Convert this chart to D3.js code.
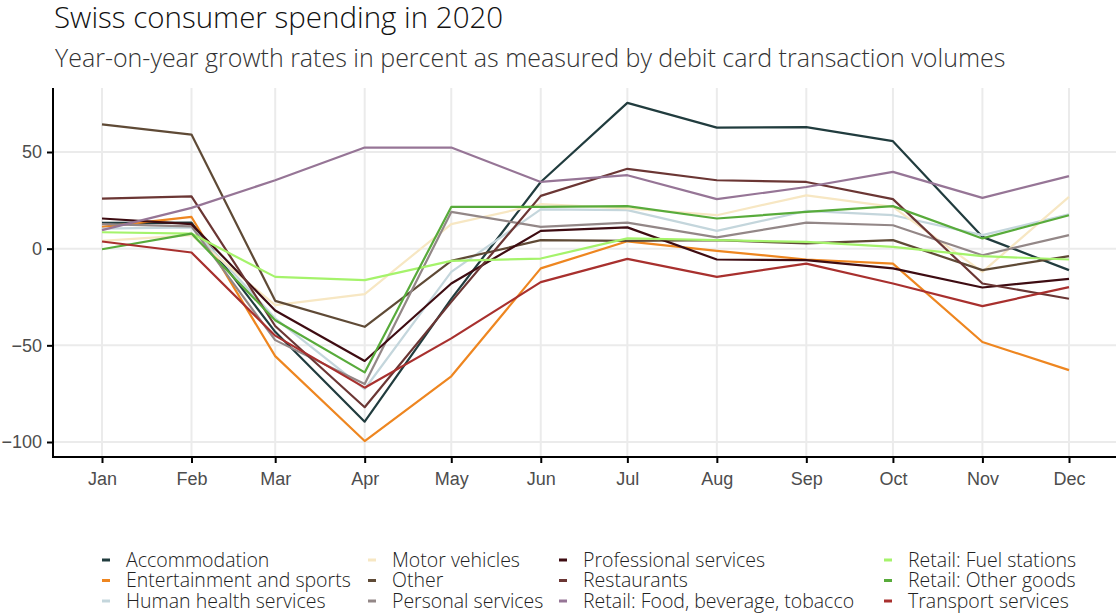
<!DOCTYPE html>
<html>
<head>
<meta charset="utf-8">
<script src="https://cdn.jsdelivr.net/npm/d3@7"></script>
<style>
  html, body { margin: 0; padding: 0; background: #fff; }
  svg { display: block; font-family: "Open Sans", "Noto Sans", sans-serif; }
</style>
</head>
<body>
<svg id="chart" width="1116" height="615"></svg>
<script>
// ---- data ----
const months = ["Jan","Feb","Mar","Apr","May","Jun","Jul","Aug","Sep","Oct","Nov","Dec"];
const yTicks = [-100, -50, 0, 50];
const categories = [
  "Accommodation", "Entertainment and sports", "Human health services",
  "Motor vehicles", "Other", "Personal services",
  "Professional services", "Restaurants", "Retail: Food, beverage, tobacco",
  "Retail: Fuel stations", "Retail: Other goods", "Transport services"
];
const colors = ["#213c3e", "#ee8620", "#c4d6dc", "#f7e7c3", "#5f4a36", "#938787",
                "#3e0c12", "#6b3634", "#967596", "#a5f36b", "#58ab3b", "#a8302e"];

const accommodation  = [13.3, 13.5, -43, -89.5, -26, 34.5, 75.4, 62.6, 62.9, 55.6, 6.1, -11.1];
const entertainment  = [11.3, 16.4, -55.6, -99.5, -66, -10.2, 3.8, -1.1, -5.6, -7.7, -48.3, -62.8];
const humanHealth    = [10.4, 11.0, -36, -72.6, -12, 20.3, 19.9, 9.2, 19.5, 17.3, 7.0, 17.8];
const motorVehicles  = [4.0, 7.0, -29.2, -23.5, 12.7, 23.0, 20.8, 17.3, 27.6, 21.6, -12, 26.8];
const other          = [64.3, 59.0, -27.0, -40.4, -6.3, 4.4, 4.0, 4.4, 2.7, 4.4, -11.1, -3.9];
const personal       = [12.7, 11.5, -47.3, -70, 19.0, 11.3, 13.5, 5.8, 13.5, 12.1, -3.4, 7.0];
const professional   = [15.6, 12.7, -32, -58.1, -18, 9.2, 11.0, -5.6, -5.9, -10.2, -20.1, -15.6];
const restaurants    = [25.9, 27.0, -40, -82, -27.5, 27.3, 41.3, 35.4, 34.5, 25.6, -18, -25.9];
const retailFood     = [9.6, 21.1, 35.4, 52.3, 52.3, 34.5, 38.0, 25.6, 31.9, 39.7, 26.3, 37.5];
const retailFuel     = [8.5, 7.8, -14.6, -16.3, -6.3, -5.1, 5.3, 4.4, 3.5, 0.9, -3.9, -5.6];
const retailOther    = [-0.3, 7.8, -37, -64, 21.6, 21.6, 22.0, 15.6, 19.0, 22.0, 5.3, 17.3];
const transport      = [3.7, -2.0, -45, -71.9, -46.4, -17.3, -5.3, -14.6, -7.7, -18.0, -29.7, -19.9];

const seriesValues = [accommodation, entertainment, humanHealth, motorVehicles, other, personal,
                      professional, restaurants, retailFood, retailFuel, retailOther, transport];

// ---- layout ----
const svg = d3.select("#chart");
const dates = months.map((m, i) => new Date(2020, i, 1));
const x = d3.scaleTime().domain([dates[0], dates[11]]).range([102, 1069]);
const y = d3.scaleLinear().domain([-100, 50]).range([442, 152]);
const panel = { left: 53, right: 1116, top: 88, bottom: 457 };

// title
svg.append("text").attr("x", 54).attr("y", 28)
  .attr("font-size", 29.5).attr("font-weight", 300).attr("fill", "#111")
  .text("Swiss consumer spending in 2020");
svg.append("text").attr("x", 55).attr("y", 67)
  .attr("font-size", 25).attr("font-weight", 300).attr("fill", "#333")
  .text("Year-on-year growth rates in percent as measured by debit card transaction volumes");

// grid
const grid = svg.append("g");
grid.selectAll("line.v").data(dates).join("line")
  .attr("x1", d => x(d)).attr("x2", d => x(d))
  .attr("y1", panel.top).attr("y2", panel.bottom)
  .attr("stroke", "#ebebeb").attr("stroke-width", 2);
grid.selectAll("line.h").data(yTicks).join("line")
  .attr("x1", panel.left).attr("x2", panel.right)
  .attr("y1", d => y(d)).attr("y2", d => y(d))
  .attr("stroke", "#ebebeb").attr("stroke-width", 2);

// lines
const line = d3.line().x((d, i) => x(dates[i])).y(d => y(d));
svg.append("g").selectAll("path").data(seriesValues).join("path")
  .attr("d", d => line(d))
  .attr("fill", "none")
  .attr("stroke", (d, i) => colors[i])
  .attr("stroke-width", 2.2)
  .attr("stroke-linejoin", "round");

// axes
const yAxis = d3.axisLeft(y).tickValues(yTicks).tickSize(6).tickPadding(5);
const gy = svg.append("g").attr("transform", `translate(${panel.left},0)`).call(yAxis);
gy.select(".domain").remove();
gy.selectAll(".tick line").attr("stroke", "#000").attr("stroke-width", 2);
gy.selectAll(".tick text").attr("font-size", 18).attr("font-weight", 300)
  .attr("fill", "#4d4d4d").attr("font-family", null);

const xAxis = d3.axisBottom(x).tickValues(dates).tickFormat((d, i) => months[i]).tickSize(6).tickPadding(9);
const gx = svg.append("g").attr("transform", `translate(0,${panel.bottom})`).call(xAxis);
gx.select(".domain").remove();
gx.selectAll(".tick line").attr("stroke", "#000").attr("stroke-width", 2);
gx.selectAll(".tick text").attr("font-size", 18).attr("font-weight", 300)
  .attr("fill", "#4d4d4d").attr("font-family", null);

svg.append("line").attr("x1", panel.left).attr("x2", panel.left)
  .attr("y1", panel.top).attr("y2", panel.bottom + 1)
  .attr("stroke", "#000").attr("stroke-width", 2);
svg.append("line").attr("x1", panel.left - 1).attr("x2", panel.right)
  .attr("y1", panel.bottom).attr("y2", panel.bottom)
  .attr("stroke", "#000").attr("stroke-width", 2);

// legend (column-major, 4 columns x 3 rows)
const colX = [102, 368, 559, 884];
const legend = svg.append("g");
categories.forEach((c, i) => {
  const col = Math.floor(i / 3), row = i % 3;
  const g = legend.append("g").attr("transform", `translate(${colX[col]},${560 + row * 20.5})`);
  g.append("line").attr("x1", 0).attr("x2", 8).attr("y1", 0).attr("y2", 0)
    .attr("stroke", colors[i]).attr("stroke-width", 3);
  g.append("text").attr("x", 24).attr("y", 6.5)
    .attr("font-size", 19.5).attr("font-weight", 300).attr("fill", "#222")
    .text(c);
});
</script>
</body>
</html>
